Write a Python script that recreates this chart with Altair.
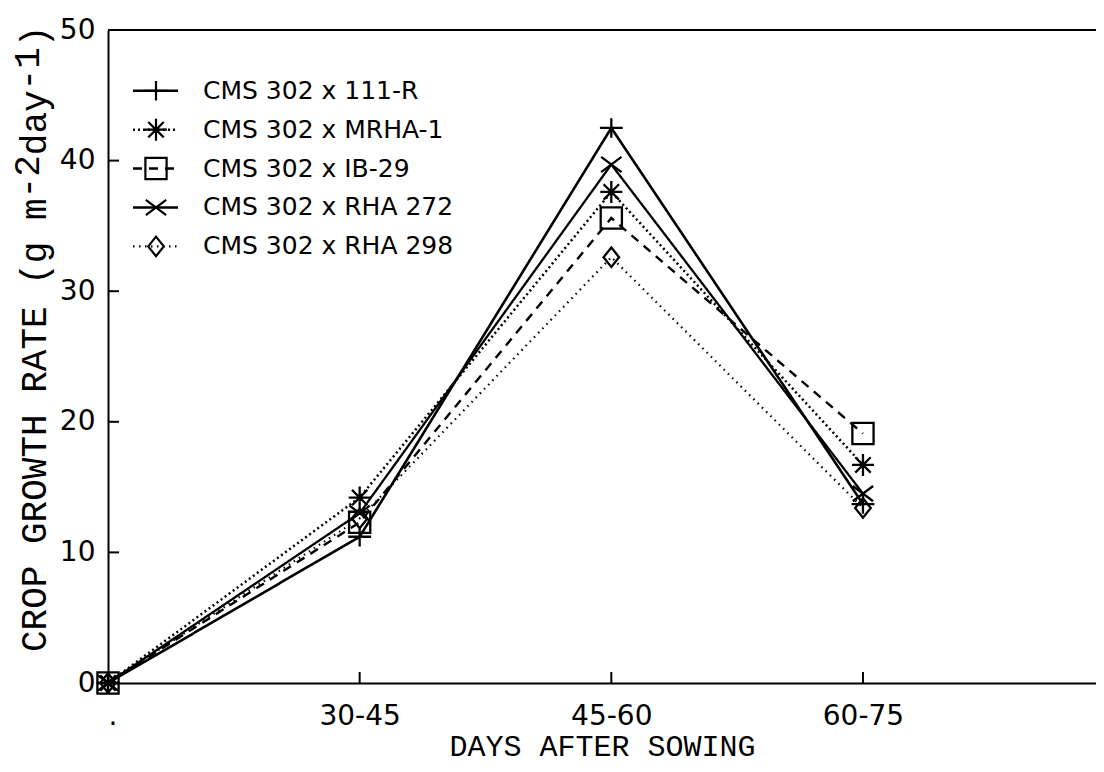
import json
import altair as alt
import pandas as pd

# ---- data ----
periods = [0, 1, 2, 3]
period_labels = [".", "30-45", "45-60", "60-75"]
series = ["CMS 302 x 111-R", "CMS 302 x MRHA-1", "CMS 302 x IB-29",
          "CMS 302 x RHA 272", "CMS 302 x RHA 298"]
cgr_111r = [0, 11.2, 42.5, 13.7]
cgr_mrha1 = [0, 14.2, 37.6, 16.7]
cgr_ib29 = [0, 12.3, 35.6, 19.1]
cgr_rha272 = [0, 13.0, 39.7, 14.5]
cgr_rha298 = [0, 12.6, 32.6, 13.4]
y_tick_values = [10, 20, 30, 40]
x_tick_values = [1, 2, 3]
y_max = 50
x_title = "DAYS AFTER SOWING"
y_title_parts = ["CROP GROWTH RATE (g m", "-2", "day", "-1", ")"]
y_title_raised = [False, True, False, True, False]

values = [cgr_111r, cgr_mrha1, cgr_ib29, cgr_rha272, cgr_rha298]
rows = []
for s, vals in zip(series, values):
    for p, v in zip(periods, vals):
        rows.append({"series": s, "period": p, "cgr": v})
df = pd.DataFrame(rows)
legend_df = pd.DataFrame({"series": series, "idx": list(range(len(series)))})
ytick_df = pd.DataFrame({"v": y_tick_values})
xtick_df = pd.DataFrame({"v": x_tick_values})
top_df = pd.DataFrame({"v": [y_max]})

# ---- styling ----
W, H = 988, 653
shape_paths = [
    "M-1,0L1,0M0,-0.85L0,0.85",
    "M-1,0L1,0M0,-1L0,1M-0.7,-0.7L0.7,0.7M-0.7,0.7L0.7,-0.7",
    "M-1,-1L1,-1L1,1L-1,1Z",
    "M-1,-0.75L1,0.75M-1,0.75L1,-0.75",
    "M0,-1L0.8,0L0,1L-0.8,0Z",
]
sizes = [520, 380, 256, 420, 400]
dashes = [[1, 0], [2, 3], [9, 7], [1, 0], [1.5, 4.5]]
widths = [2.6, 2.2, 2.3, 2.6, 1.8]

shape_scale = alt.Scale(domain=series, range=shape_paths)
size_scale = alt.Scale(domain=series, range=sizes)
dash_scale = alt.Scale(domain=series, range=dashes)
width_scale = alt.Scale(domain=series, range=widths)

label_expr = "%s[datum.value]" % json.dumps(period_labels)

x_enc = alt.X("period:Q", title=x_title,
              scale=alt.Scale(domain=[0, 3.926], nice=False, zero=False),
              axis=alt.Axis(values=periods, labelExpr=label_expr, ticks=False,
                            tickSize=0, grid=False, labelPadding=19,
                            titlePadding=1))
y_enc = alt.Y("cgr:Q", title=None,
              scale=alt.Scale(domain=[0, y_max], nice=False),
              axis=alt.Axis(values=[0, 10, 20, 30, 40, 50], ticks=False,
                            tickSize=0, grid=False, labelPadding=13))

lines = alt.Chart(df).mark_line(color="black").encode(
    x=x_enc, y=y_enc,
    strokeDash=alt.StrokeDash("series:N", scale=dash_scale, legend=None),
    strokeWidth=alt.StrokeWidth("series:N", scale=width_scale, legend=None),
    detail="series:N",
)
points = alt.Chart(df).mark_point(filled=False, color="black", strokeWidth=2.3, opacity=1).encode(
    x=x_enc, y=y_enc,
    shape=alt.Shape("series:N", scale=shape_scale, legend=None),
    size=alt.Size("series:N", scale=size_scale, legend=None),
)

# manual legend
ly = alt.Y("ly:Q", title=None)
leg_base = alt.Chart(legend_df).transform_calculate(ly="45.35 - 2.98 * datum.idx")
leg_lines = leg_base.mark_rule(color="black").encode(
    x=alt.value(25), x2=alt.value(70), y=ly,
    strokeDash=alt.StrokeDash("series:N", scale=dash_scale, legend=None),
    strokeWidth=alt.StrokeWidth("series:N", scale=width_scale, legend=None),
)
leg_points = leg_base.mark_point(filled=False, color="black", strokeWidth=2.2, opacity=1).encode(
    x=alt.value(48), y=ly,
    shape=alt.Shape("series:N", scale=shape_scale, legend=None),
    size=alt.Size("series:N", scale=size_scale, legend=None),
)
leg_text = leg_base.mark_text(align="left", baseline="middle", font="DejaVu Sans",
                              fontSize=25, color="black").encode(
    x=alt.value(95), y=ly, text="series:N",
)

# inward ticks and top frame line
yticks = alt.Chart(ytick_df).mark_rule(color="black", strokeWidth=2).encode(
    y=alt.Y("v:Q", title=None), x=alt.value(0), x2=alt.value(11))
xticks = alt.Chart(xtick_df).mark_rule(color="black", strokeWidth=2).encode(
    x=alt.X("v:Q", title=x_title), y=alt.value(H - 11), y2=alt.value(H))
topline = alt.Chart(top_df).mark_rule(color="black", strokeWidth=2).encode(
    y=alt.Y("v:Q", title=None), x=alt.value(0), x2=alt.value(W))

# y-axis title with raised exponents, written as rotated text pieces
title_font = 36
pitch = 0.6 * title_font
title_layers = []
offset = 0
for part, raised in zip(y_title_parts, y_title_raised):
    t = alt.Chart(pd.DataFrame({"t": [part]})).mark_text(
        angle=270, align="left", baseline="middle", font="Liberation Mono",
        fontSize=title_font, color="black",
    ).encode(text="t:N", x=alt.value(-80 if raised else -73),
             y=alt.value(622 - offset * pitch))
    title_layers.append(t)
    offset += len(part)

chart = alt.layer(lines, points, leg_lines, leg_points, leg_text,
                  yticks, xticks, topline, *title_layers).properties(
    width=W, height=H,
    autosize=alt.AutoSizeParams(type="none"),
    padding={"left": 100, "top": 22, "right": 0, "bottom": 81},
).configure_view(
    stroke=None
).configure_axis(
    domainColor="black", domainWidth=2,
    labelFont="DejaVu Sans", labelFontSize=28, labelColor="black",
    titleFont="Liberation Mono", titleFontSize=30, titleFontWeight="normal",
    titleColor="black",
)

chart.save("out.html", embed_options={"renderer": "svg", "actions": False})
